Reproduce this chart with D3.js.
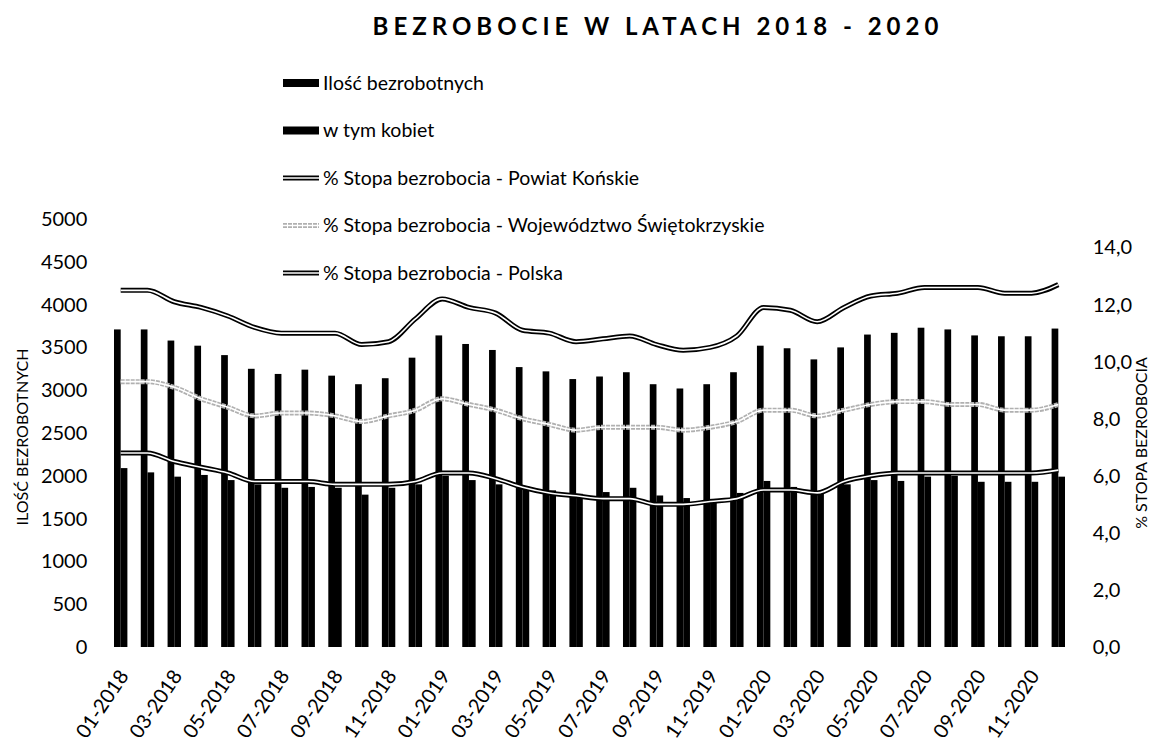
<!DOCTYPE html>
<html>
<head>
<meta charset="utf-8">
<script src="https://cdn.jsdelivr.net/npm/d3@7"></script>
<style>
  body { margin: 0; background: #fff; }
  text { font-family: Lato, "Open Sans", sans-serif; fill: #000; }
</style>
</head>
<body>
<div id="chart"></div>
<script>
// months on the x axis
const months = [
  "01-2018","02-2018","03-2018","04-2018","05-2018","06-2018","07-2018","08-2018","09-2018","10-2018","11-2018","12-2018",
  "01-2019","02-2019","03-2019","04-2019","05-2019","06-2019","07-2019","08-2019","09-2019","10-2019","11-2019","12-2019",
  "01-2020","02-2020","03-2020","04-2020","05-2020","06-2020","07-2020","08-2020","09-2020","10-2020","11-2020","12-2020"
];
// Ilość bezrobotnych
const total = [3710,3710,3580,3520,3410,3250,3190,3240,3170,3070,3140,3380,
               3640,3540,3470,3270,3220,3130,3160,3210,3070,3020,3070,3210,
               3520,3490,3360,3500,3650,3670,3730,3710,3640,3630,3630,3720];
// w tym kobiet
const women = [2090,2040,1990,2010,1950,1900,1860,1870,1860,1780,1860,1900,
               2000,1950,1900,1880,1830,1790,1810,1860,1770,1740,1730,1800,
               1940,1870,1800,1900,1950,1940,1990,2000,1930,1930,1930,1990];
// % stopa bezrobocia
const konskie = [12.5,12.5,12.1,11.9,11.6,11.2,11.0,11.0,11.0,10.6,10.7,11.5,
                 12.2,11.9,11.7,11.1,11.0,10.7,10.8,10.9,10.6,10.4,10.5,10.9,
                 11.9,11.8,11.4,11.9,12.3,12.4,12.6,12.6,12.6,12.4,12.4,12.7];
const wojewodztwo = [9.3,9.3,9.1,8.7,8.4,8.1,8.2,8.2,8.1,7.9,8.1,8.3,
                     8.7,8.5,8.3,8.0,7.8,7.6,7.7,7.7,7.7,7.6,7.7,7.9,
                     8.3,8.3,8.1,8.3,8.5,8.6,8.6,8.5,8.5,8.3,8.3,8.5];
const polska = [6.8,6.8,6.5,6.3,6.1,5.8,5.8,5.8,5.7,5.7,5.7,5.8,
                6.1,6.1,5.9,5.6,5.4,5.3,5.2,5.2,5.0,5.0,5.1,5.2,
                5.5,5.5,5.4,5.8,6.0,6.1,6.1,6.1,6.1,6.1,6.1,6.2];

const leftTicks = [0,500,1000,1500,2000,2500,3000,3500,4000,4500,5000];
const rightTicks = [0,2,4,6,8,10,12,14];

const width = 1153, height = 742;
const plotLeft = 107.3, plotRight = 1071.7, plotTop = 219, plotBottom = 647;
const font = "Lato, 'Open Sans', sans-serif";

const svg = d3.select("#chart").append("svg")
  .attr("width", width)
  .attr("height", height);

// title
svg.append("text")
  .attr("x", 658)
  .attr("y", 35)
  .attr("text-anchor", "middle")
  .style("font-size", "24px")
  .style("font-weight", "bold")
  .style("letter-spacing", "5px")
  .text("BEZROBOCIE W LATACH 2018 - 2020");

// scales
const x = d3.scaleBand()
  .domain(months)
  .range([plotLeft, plotRight])
  .paddingInner(0.5)
  .paddingOuter(0.25);

const xs = d3.scaleBand()
  .domain(["total", "women"])
  .range([0, x.bandwidth()]);

const yL = d3.scaleLinear().domain([0, 5000]).range([plotBottom, plotTop]);
const yR = d3.scaleLinear().domain([0, 15]).range([plotBottom, plotTop]);

// bars
const groups = svg.append("g")
  .selectAll("g")
  .data(months)
  .join("g")
  .attr("transform", d => `translate(${x(d)},0)`);

groups.append("rect")
  .attr("x", xs("total"))
  .attr("width", xs.bandwidth())
  .attr("y", (d, i) => yL(total[i]))
  .attr("height", (d, i) => plotBottom - yL(total[i]))
  .attr("fill", "#000");

groups.append("rect")
  .attr("x", xs("women"))
  .attr("width", xs.bandwidth())
  .attr("y", (d, i) => yL(women[i]))
  .attr("height", (d, i) => plotBottom - yL(women[i]))
  .attr("fill", "#000");

// double lines
const line = d3.line()
  .x((d, i) => x(months[i]) + x.bandwidth() / 2)
  .y(d => yR(d))
  .curve(d3.curveMonotoneX);

function doubleLine(values, outer, dash) {
  const g = svg.append("g");
  g.append("path")
    .attr("d", line(values))
    .attr("fill", "none")
    .attr("stroke", outer)
    .attr("stroke-width", 5)
    .attr("stroke-dasharray", dash || null);
  g.append("path")
    .attr("d", line(values))
    .attr("fill", "none")
    .attr("stroke", "#fff")
    .attr("stroke-width", 1.6);
}
doubleLine(wojewodztwo, "#b0b0b0", "4,1");
doubleLine(polska, "#000");
doubleLine(konskie, "#000");

// left axis
svg.append("g")
  .attr("transform", `translate(${plotLeft - 20},0)`)
  .call(d3.axisLeft(yL).tickValues(leftTicks).tickSize(0).tickPadding(0).tickFormat(d3.format("d")))
  .call(g => g.select(".domain").remove())
  .selectAll("text")
  .style("font-family", font)
  .style("font-size", "20px");

// right axis
svg.append("g")
  .attr("transform", `translate(${plotRight + 21},0)`)
  .call(d3.axisRight(yR).tickValues(rightTicks).tickSize(0).tickPadding(0)
    .tickFormat(d => d3.format(".1f")(d).replace(".", ",")))
  .call(g => g.select(".domain").remove())
  .selectAll("text")
  .style("font-family", font)
  .style("font-size", "20px");

// x labels, every second month
svg.append("g")
  .attr("transform", `translate(0,${plotBottom + 25})`)
  .call(d3.axisBottom(x).tickValues(months.filter((d, i) => i % 2 === 0)).tickSize(0).tickPadding(0))
  .call(g => g.select(".domain").remove())
  .selectAll("text")
  .style("font-family", font)
  .style("font-size", "20px")
  .attr("text-anchor", "end")
  .attr("dy", "0.35em")
  .attr("transform", "translate(3,0) rotate(-56)");

// axis titles
svg.append("text")
  .attr("transform", "translate(28,437) rotate(-90)")
  .attr("text-anchor", "middle")
  .style("font-size", "16px")
  .text("ILOŚĆ BEZROBOTNYCH");

svg.append("text")
  .attr("transform", "translate(1147,443) rotate(-90)")
  .attr("text-anchor", "middle")
  .style("font-size", "16px")
  .text("% STOPA BEZROBOCIA");

// legend
const legendItems = [
  {label: "Ilość bezrobotnych", type: "bar"},
  {label: "w tym kobiet", type: "bar"},
  {label: "% Stopa bezrobocia - Powiat Końskie", type: "line", color: "#000"},
  {label: "% Stopa bezrobocia - Województwo Świętokrzyskie", type: "line", color: "#b0b0b0", dash: "4,1"},
  {label: "% Stopa bezrobocia - Polska", type: "line", color: "#000"}
];

const legend = svg.append("g")
  .selectAll("g")
  .data(legendItems)
  .join("g")
  .attr("transform", (d, i) => `translate(283,${83 + i * 47.5})`);

legend.filter(d => d.type === "bar")
  .append("rect")
  .attr("x", 0).attr("y", -4)
  .attr("width", 36).attr("height", 8)
  .attr("fill", "#000");

legend.filter(d => d.type === "line")
  .each(function(d) {
    const g = d3.select(this);
    g.append("line").attr("x1", 0).attr("x2", 36)
      .attr("stroke", d.color).attr("stroke-width", 5)
      .attr("stroke-dasharray", d.dash || null);
    g.append("line").attr("x1", 0).attr("x2", 36)
      .attr("stroke", "#fff").attr("stroke-width", 1.6);
  });

legend.append("text")
  .attr("x", 40)
  .attr("dy", "0.35em")
  .style("font-size", "19.5px")
  .text(d => d.label);
</script>
</body>
</html>
